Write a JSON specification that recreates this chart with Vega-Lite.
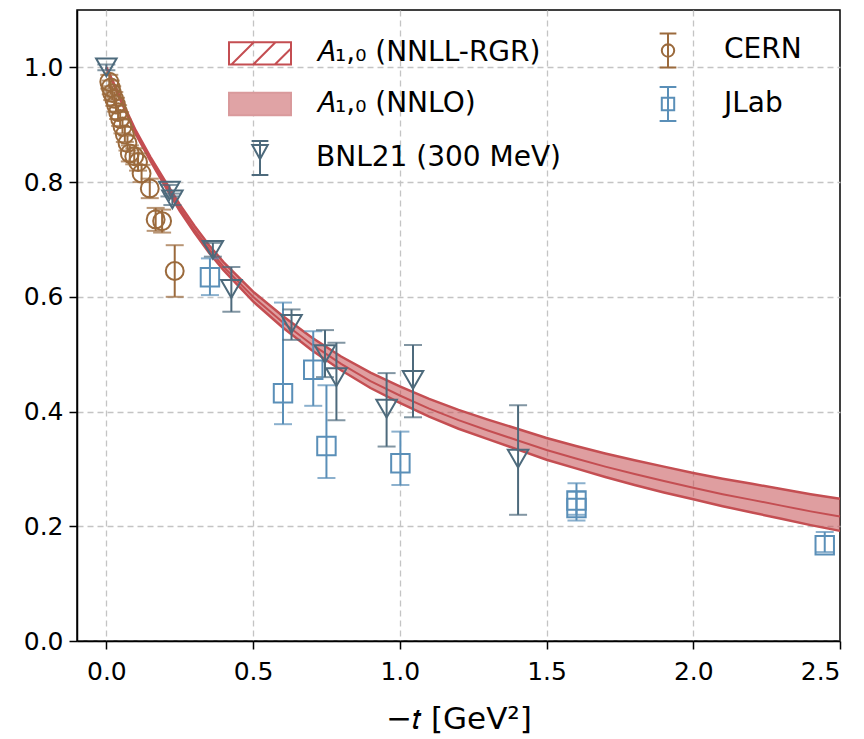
{
  "$schema": "https://vega.github.io/schema/vega-lite/v6.json",
  "width": 763,
  "height": 631,
  "autosize": {"type": "none"},
  "padding": {"left": 77, "top": 10, "right": 24, "bottom": 98},
  "background": "white",
  "config": {
    "view": {"stroke": "black", "strokeWidth": 1.5},
    "font": "DejaVu Sans",
    "axis": {
      "labelFont": "DejaVu Sans", "labelFontSize": 25, "labelColor": "black",
      "domainColor": "black", "domainWidth": 1.5,
      "tickColor": "black", "tickWidth": 1.5, "tickSize": 8, "labelPadding": 6,
      "gridColor": "#c4c4c4", "gridDash": [6, 4], "gridWidth": 1.3,
      "titleFont": "DejaVu Sans", "titleFontSize": 31, "titleFontWeight": "normal", "titleColor": "black"
    }
  },
  "datasets": {
    "band": [
      {"x": 0.0, "lo": 1.000, "mid": 1.000, "hi": 1.000},
      {"x": 0.02, "lo": 0.976, "mid": 0.977, "hi": 0.978},
      {"x": 0.05, "lo": 0.941, "mid": 0.943, "hi": 0.945},
      {"x": 0.1, "lo": 0.884, "mid": 0.887, "hi": 0.890},
      {"x": 0.15, "lo": 0.837, "mid": 0.840, "hi": 0.844},
      {"x": 0.2, "lo": 0.793, "mid": 0.797, "hi": 0.802},
      {"x": 0.25, "lo": 0.750, "mid": 0.755, "hi": 0.761},
      {"x": 0.3, "lo": 0.712, "mid": 0.717, "hi": 0.724},
      {"x": 0.35, "lo": 0.677, "mid": 0.683, "hi": 0.690},
      {"x": 0.4, "lo": 0.646, "mid": 0.652, "hi": 0.660},
      {"x": 0.5, "lo": 0.592, "mid": 0.600, "hi": 0.609},
      {"x": 0.6, "lo": 0.547, "mid": 0.556, "hi": 0.567},
      {"x": 0.7, "lo": 0.507, "mid": 0.517, "hi": 0.529},
      {"x": 0.8, "lo": 0.472, "mid": 0.483, "hi": 0.496},
      {"x": 0.9, "lo": 0.441, "mid": 0.453, "hi": 0.468},
      {"x": 1.0, "lo": 0.415, "mid": 0.428, "hi": 0.444},
      {"x": 1.1, "lo": 0.391, "mid": 0.405, "hi": 0.422},
      {"x": 1.2, "lo": 0.370, "mid": 0.385, "hi": 0.403},
      {"x": 1.3, "lo": 0.352, "mid": 0.367, "hi": 0.386},
      {"x": 1.4, "lo": 0.334, "mid": 0.350, "hi": 0.370},
      {"x": 1.5, "lo": 0.316, "mid": 0.333, "hi": 0.354},
      {"x": 1.6, "lo": 0.301, "mid": 0.318, "hi": 0.340},
      {"x": 1.7, "lo": 0.286, "mid": 0.304, "hi": 0.327},
      {"x": 1.8, "lo": 0.272, "mid": 0.291, "hi": 0.315},
      {"x": 1.9, "lo": 0.259, "mid": 0.279, "hi": 0.304},
      {"x": 2.0, "lo": 0.247, "mid": 0.267, "hi": 0.293},
      {"x": 2.1, "lo": 0.235, "mid": 0.256, "hi": 0.283},
      {"x": 2.2, "lo": 0.224, "mid": 0.246, "hi": 0.274},
      {"x": 2.3, "lo": 0.213, "mid": 0.236, "hi": 0.265},
      {"x": 2.4, "lo": 0.202, "mid": 0.226, "hi": 0.256},
      {"x": 2.5, "lo": 0.192, "mid": 0.217, "hi": 0.248}
    ],
    "pts": [
      {"series": "CERN", "x": 0.010, "y": 0.975, "lo": 0.963, "hi": 0.987},
      {"series": "CERN", "x": 0.015, "y": 0.965, "lo": 0.953, "hi": 0.977},
      {"series": "CERN", "x": 0.020, "y": 0.955, "lo": 0.943, "hi": 0.967},
      {"series": "CERN", "x": 0.027, "y": 0.945, "lo": 0.933, "hi": 0.957},
      {"series": "CERN", "x": 0.033, "y": 0.935, "lo": 0.923, "hi": 0.947},
      {"series": "CERN", "x": 0.040, "y": 0.922, "lo": 0.910, "hi": 0.934},
      {"series": "CERN", "x": 0.047, "y": 0.910, "lo": 0.898, "hi": 0.922},
      {"series": "CERN", "x": 0.055, "y": 0.897, "lo": 0.885, "hi": 0.909},
      {"series": "CERN", "x": 0.063, "y": 0.883, "lo": 0.870, "hi": 0.896},
      {"series": "CERN", "x": 0.072, "y": 0.868, "lo": 0.855, "hi": 0.881},
      {"series": "CERN", "x": 0.080, "y": 0.850, "lo": 0.836, "hi": 0.864},
      {"series": "CERN", "x": 0.095, "y": 0.845, "lo": 0.831, "hi": 0.859},
      {"series": "CERN", "x": 0.108, "y": 0.835, "lo": 0.820, "hi": 0.850},
      {"series": "CERN", "x": 0.120, "y": 0.815, "lo": 0.800, "hi": 0.830},
      {"series": "CERN", "x": 0.148, "y": 0.789, "lo": 0.772, "hi": 0.806},
      {"series": "CERN", "x": 0.168, "y": 0.735, "lo": 0.715, "hi": 0.755},
      {"series": "CERN", "x": 0.190, "y": 0.732, "lo": 0.712, "hi": 0.752},
      {"series": "CERN", "x": 0.233, "y": 0.645, "lo": 0.600, "hi": 0.690},
      {"series": "JLab", "x": 0.353, "y": 0.634, "lo": 0.603, "hi": 0.667},
      {"series": "JLab", "x": 0.602, "y": 0.432, "lo": 0.378, "hi": 0.590},
      {"series": "JLab", "x": 0.705, "y": 0.473, "lo": 0.410, "hi": 0.540},
      {"series": "JLab", "x": 0.750, "y": 0.340, "lo": 0.284, "hi": 0.446},
      {"series": "JLab", "x": 1.002, "y": 0.310, "lo": 0.272, "hi": 0.365},
      {"series": "JLab", "x": 1.602, "y": 0.245, "lo": 0.220, "hi": 0.275},
      {"series": "JLab", "x": 1.602, "y": 0.232, "lo": 0.210, "hi": 0.260},
      {"series": "JLab", "x": 2.448, "y": 0.167, "lo": 0.155, "hi": 0.190},
      {"series": "BNL21 (300 MeV)", "x": 0.0, "y": 1.0, "lo": 0.995, "hi": 1.005},
      {"series": "BNL21 (300 MeV)", "x": 0.215, "y": 0.785, "lo": 0.775, "hi": 0.795},
      {"series": "BNL21 (300 MeV)", "x": 0.225, "y": 0.770, "lo": 0.760, "hi": 0.780},
      {"series": "BNL21 (300 MeV)", "x": 0.363, "y": 0.682, "lo": 0.670, "hi": 0.694},
      {"series": "BNL21 (300 MeV)", "x": 0.426, "y": 0.614, "lo": 0.574, "hi": 0.652},
      {"series": "BNL21 (300 MeV)", "x": 0.631, "y": 0.553, "lo": 0.525, "hi": 0.578},
      {"series": "BNL21 (300 MeV)", "x": 0.745, "y": 0.500, "lo": 0.460, "hi": 0.542},
      {"series": "BNL21 (300 MeV)", "x": 0.784, "y": 0.460, "lo": 0.385, "hi": 0.520},
      {"series": "BNL21 (300 MeV)", "x": 0.955, "y": 0.405, "lo": 0.339, "hi": 0.467},
      {"series": "BNL21 (300 MeV)", "x": 1.045, "y": 0.455, "lo": 0.390, "hi": 0.516},
      {"series": "BNL21 (300 MeV)", "x": 1.403, "y": 0.318, "lo": 0.220, "hi": 0.411}
    ],
    "leg": [
      {"series": "𝐴₁,₀ (NNLL-RGR)"},
      {"series": "𝐴₁,₀ (NNLO)"},
      {"series": "BNL21 (300 MeV)"},
      {"series": "CERN"},
      {"series": "JLab"}
    ]
  },
  "encoding": {
    "x": {
      "field": "x", "type": "quantitative",
      "scale": {"domain": [-0.1, 2.5], "nice": false, "zero": false},
      "axis": {
        "values": [0, 0.5, 1, 1.5, 2, 2.5], "format": ".1f", "titlePadding": 20, "labelPadding": 10,
        "gridOpacity": {"condition": {"test": "datum.value >= 2.5", "value": 0}, "value": 1}
      },
      "title": "−𝑡 [GeV²]"
    }
  },
  "layer": [
    {
      "data": {"name": "band"},
      "mark": {"type": "area", "color": "#c44e52", "opacity": 0.55},
      "encoding": {
        "y": {
          "field": "lo", "type": "quantitative", "title": null,
          "scale": {"domain": [0, 1.1], "nice": false, "zero": false},
          "axis": {"values": [0, 0.2, 0.4, 0.6, 0.8, 1.0], "format": ".1f"}
        },
        "y2": {"field": "hi"}
      }
    },
    {
      "data": {"name": "band"},
      "mark": {"type": "line", "color": "#c44e52", "strokeWidth": 2.5},
      "encoding": {"y": {"field": "hi", "type": "quantitative", "title": null}}
    },
    {
      "data": {"name": "band"},
      "mark": {"type": "line", "color": "#c44e52", "strokeWidth": 2},
      "encoding": {"y": {"field": "mid", "type": "quantitative", "title": null}}
    },
    {
      "data": {"name": "band"},
      "mark": {"type": "line", "color": "#c44e52", "strokeWidth": 2.5},
      "encoding": {"y": {"field": "lo", "type": "quantitative", "title": null}}
    },
    {
      "data": {"name": "pts"},
      "mark": {"type": "rule", "strokeWidth": 2},
      "encoding": {
        "y": {"field": "lo", "type": "quantitative", "title": null},
        "y2": {"field": "hi"},
        "color": {
          "field": "series", "type": "nominal", "legend": null,
          "scale": {"domain": ["CERN", "JLab", "BNL21 (300 MeV)"], "range": ["#9b6a3c", "#5a8fb8", "#4d6a7c"]}
        }
      }
    },
    {
      "data": {"name": "pts"},
      "mark": {"type": "tick", "orient": "horizontal", "size": 18, "thickness": 2},
      "encoding": {
        "y": {"field": "hi", "type": "quantitative", "title": null},
        "color": {"field": "series", "type": "nominal", "legend": null}
      }
    },
    {
      "data": {"name": "pts"},
      "mark": {"type": "tick", "orient": "horizontal", "size": 18, "thickness": 2},
      "encoding": {
        "y": {"field": "lo", "type": "quantitative", "title": null},
        "color": {"field": "series", "type": "nominal", "legend": null}
      }
    },
    {
      "data": {"name": "pts"},
      "transform": [{"filter": "datum.series === 'CERN'"}],
      "mark": {"type": "point", "shape": "circle", "filled": false, "size": 320, "strokeWidth": 2, "color": "#9b6a3c", "opacity": 1},
      "encoding": {"y": {"field": "y", "type": "quantitative", "title": null}}
    },
    {
      "data": {"name": "pts"},
      "transform": [{"filter": "datum.series === 'JLab'"}],
      "mark": {"type": "point", "shape": "square", "filled": false, "size": 340, "strokeWidth": 2, "color": "#5a8fb8", "opacity": 1},
      "encoding": {"y": {"field": "y", "type": "quantitative", "title": null}}
    },
    {
      "data": {"name": "pts"},
      "transform": [{"filter": "datum.series === 'BNL21 (300 MeV)'"}],
      "mark": {"type": "point", "shape": "triangle-down", "filled": false, "size": 420, "strokeWidth": 2, "color": "#4d6a7c", "opacity": 1},
      "encoding": {"y": {"field": "y", "type": "quantitative", "title": null}}
    },
    {
      "data": {"name": "leg"},
      "mark": {"type": "point", "opacity": 0},
      "encoding": {
        "x": {"value": 10},
        "y": {"value": 10},
        "fill": {
          "field": "series", "type": "nominal",
          "scale": {
            "domain": ["𝐴₁,₀ (NNLL-RGR)", "𝐴₁,₀ (NNLO)", "BNL21 (300 MeV)", "CERN", "JLab"],
            "range": ["transparent", "#e0a3a5", "transparent", "transparent", "transparent"]
          },
          "legend": {
            "orient": "none", "legendX": 151, "legendY": 8, "columns": 2, "title": null,
            "symbolSize": 3844, "symbolStrokeWidth": 2, "symbolOpacity": 1,
            "labelFont": "DejaVu Sans", "labelFontSize": 28, "labelColor": "black", "labelLimit": 500,
            "labelOffset": 24, "rowPadding": -2, "columnPadding": 74
          }
        },
        "stroke": {
          "field": "series", "type": "nominal",
          "scale": {
            "domain": ["𝐴₁,₀ (NNLL-RGR)", "𝐴₁,₀ (NNLO)", "BNL21 (300 MeV)", "CERN", "JLab"],
            "range": ["#c44e52", "#d99a9c", "#4d6a7c", "#9b6a3c", "#5a8fb8"]
          },
          "legend": {
            "orient": "none", "legendX": 151, "legendY": 8, "columns": 2, "title": null,
            "symbolSize": 3844, "symbolStrokeWidth": 2, "symbolOpacity": 1,
            "labelFont": "DejaVu Sans", "labelFontSize": 28, "labelColor": "black", "labelLimit": 500,
            "labelOffset": 24, "rowPadding": -2, "columnPadding": 74
          }
        },
        "shape": {
          "field": "series", "type": "nominal",
          "scale": {
            "domain": ["𝐴₁,₀ (NNLL-RGR)", "𝐴₁,₀ (NNLO)", "BNL21 (300 MeV)", "CERN", "JLab"],
            "range": [
              "M-1,-0.36L1,-0.36L1,0.36L-1,0.36Z M-0.92,0.36L-0.2,-0.36 M-0.22,0.36L0.5,-0.36 M0.48,0.36L1,-0.16",
              "M-1,-0.36L1,-0.36L1,0.36L-1,0.36Z",
              "M0,-0.55L0,0.55 M-0.27,-0.55L0.27,-0.55 M-0.27,0.55L0.27,0.55 M-0.25,-0.42L0.25,-0.42L0,0.04Z",
              "M0,-0.55L0,0.55 M-0.27,-0.55L0.27,-0.55 M-0.27,0.55L0.27,0.55 M-0.2,0A0.2,0.2 0 1,0 0.2,0A0.2,0.2 0 1,0 -0.2,0Z",
              "M0,-0.55L0,0.55 M-0.27,-0.55L0.27,-0.55 M-0.27,0.55L0.27,0.55 M-0.2,-0.2L0.2,-0.2L0.2,0.2L-0.2,0.2Z"
            ]
          },
          "legend": {
            "orient": "none", "legendX": 151, "legendY": 8, "columns": 2, "title": null,
            "symbolSize": 3844, "symbolStrokeWidth": 2, "symbolOpacity": 1,
            "labelFont": "DejaVu Sans", "labelFontSize": 28, "labelColor": "black", "labelLimit": 500,
            "labelOffset": 24, "rowPadding": -2, "columnPadding": 74
          }
        }
      }
    }
  ]
}
